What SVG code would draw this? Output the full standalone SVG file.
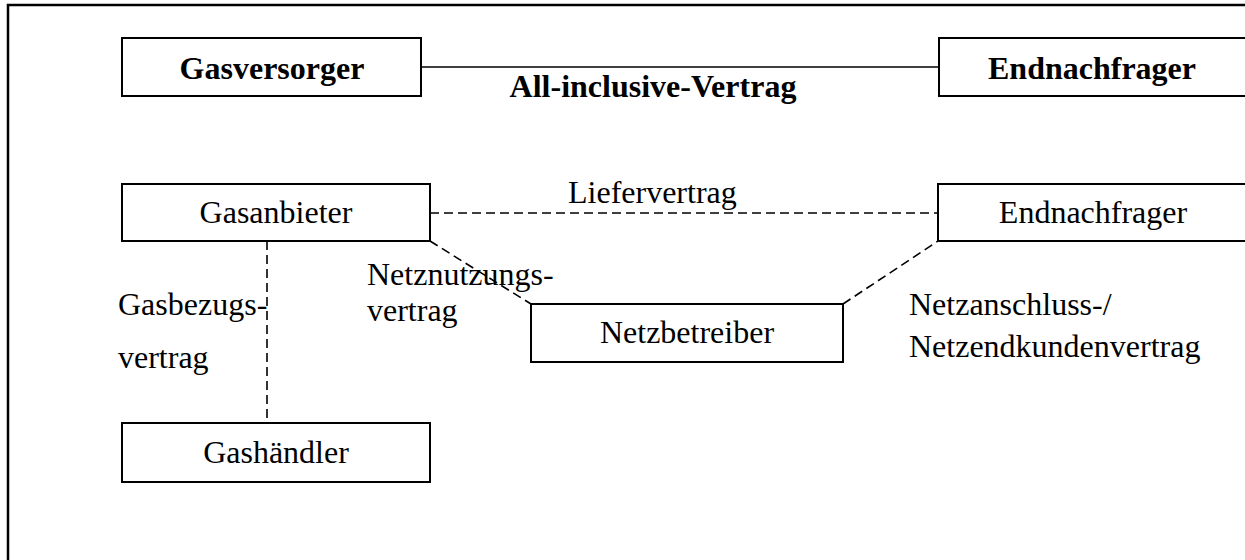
<svg xmlns="http://www.w3.org/2000/svg" width="1245" height="560" viewBox="0 0 1245 560">
<style>
.box{fill:#fff;stroke:#000;stroke-width:2}
.t{font-family:"Liberation Serif","Times New Roman",serif;font-size:32px;fill:#000}
.b{font-weight:bold;font-size:32px}
.c{text-anchor:middle}
.solid{stroke:#000;stroke-width:1.6;fill:none}
.dash{stroke:#000;stroke-width:1.6;fill:none;stroke-dasharray:9,5}
</style>
<rect x="8" y="5" width="1250" height="580" fill="#fff" stroke="#000" stroke-width="2.5"/>
<g id="connectors">
<line class="solid" x1="421" y1="67" x2="939" y2="67"/>
<line class="dash" x1="430" y1="213" x2="938" y2="213"/>
<line class="dash" x1="430" y1="241" x2="531" y2="304"/>
<line class="dash" x1="843" y1="304" x2="938" y2="241"/>
<line class="dash" x1="267" y1="241" x2="267" y2="423"/>
</g>
<g id="labels">
<text class="t b c" x="653" y="97">All-inclusive-Vertrag</text>
<text class="t" x="568" y="203">Liefervertrag</text>
<text class="t" x="367" y="285">Netznutzungs-</text>
<text class="t" x="367" y="321">vertrag</text>
<text class="t" x="118" y="315">Gasbezugs-</text>
<text class="t" x="118" y="368">vertrag</text>
<text class="t" x="909" y="315">Netzanschluss-/</text>
<text class="t" x="909" y="357">Netzendkundenvertrag</text>
</g>
<g id="gasversorger">
<rect class="box" x="122" y="38" width="299" height="58"/>
<text class="t b c" x="272" y="79">Gasversorger</text>
</g>
<g id="endnachfrager1">
<rect class="box" x="939" y="38" width="310" height="58"/>
<text class="t b c" x="1092" y="79">Endnachfrager</text>
</g>
<g id="gasanbieter">
<rect class="box" x="122" y="184" width="308" height="57"/>
<text class="t c" x="276" y="223">Gasanbieter</text>
</g>
<g id="endnachfrager2">
<rect class="box" x="938" y="184" width="310" height="57"/>
<text class="t c" x="1093" y="223">Endnachfrager</text>
</g>
<g id="netzbetreiber">
<rect class="box" x="531" y="304" width="312" height="58"/>
<text class="t c" x="687" y="343">Netzbetreiber</text>
</g>
<g id="gashaendler">
<rect class="box" x="122" y="423" width="308" height="59"/>
<text class="t c" x="276" y="463">Gashändler</text>
</g>
</svg>
